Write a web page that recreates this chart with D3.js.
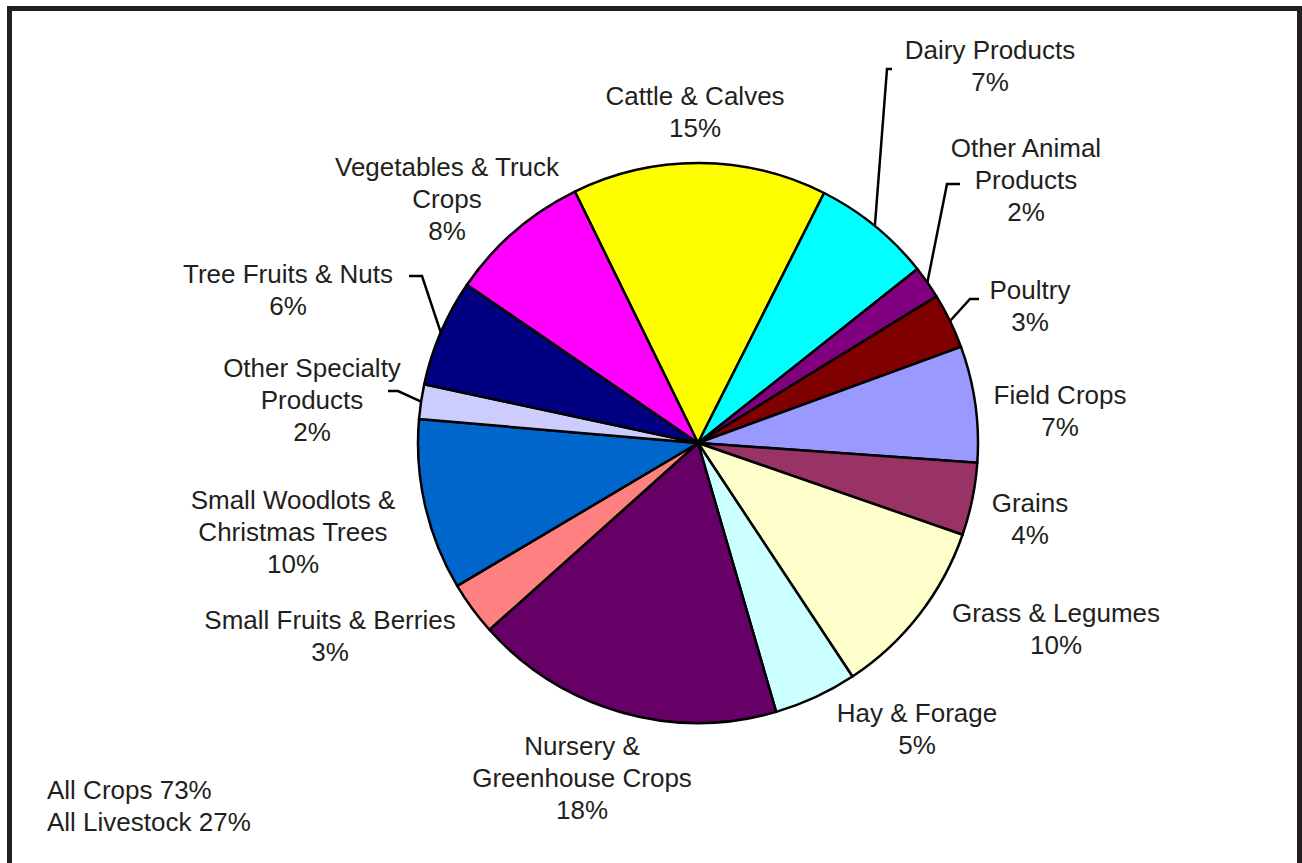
<!DOCTYPE html>
<html>
<head>
  <meta charset="utf-8">
  <script src="https://d3js.org/d3.v7.min.js"></script>
  <style>
    body { margin: 0; background: #fff; }
    text { font-family: "Liberation Sans", Arial, sans-serif; fill: #231f20; }
  </style>
</head>
<body>
<script>
  // slice names (each label line separated by |), values in percent, fill colours
  var categories = [
    "Cattle & Calves", "Dairy Products", "Other Animal|Products", "Poultry",
    "Field Crops", "Grains", "Grass & Legumes", "Hay & Forage",
    "Nursery &|Greenhouse Crops", "Small Fruits & Berries",
    "Small Woodlots &|Christmas Trees", "Other Specialty|Products",
    "Tree Fruits & Nuts", "Vegetables & Truck|Crops"
  ];
  var values = [14.7, 6.9, 1.9, 3.2, 6.7, 4.2, 10.4, 4.8, 17.9, 3.1, 9.9, 2.0, 6.2, 8.2];
  var colors = [
    "#ffff00", "#00ffff", "#800080", "#800000", "#9999ff", "#993366", "#ffffcc",
    "#ccffff", "#660066", "#ff8080", "#0066cc", "#ccccff", "#000080", "#ff00ff"
  ];
  var summary = ["All Crops 73%", "All Livestock 27%"];

  var width = 1302, height = 863;
  var cx = 698, cy = 443, radius = 280;
  var lineH = 32;

  // label block centres (x, y of the first line) -- layout only
  var labelAt = [
    [695, 96], [990, 50], [1026, 148], [1030, 290], [1060, 395], [1030, 503],
    [1056, 613], [917, 713], [582, 746], [330, 620], [293, 500], [312, 368],
    [288, 274], [447, 167]
  ];
  // leader elbows: [elbow point, end of short horizontal tick]
  var leaders = {
    1: [[887, 69], [892, 69]],
    2: [[947, 184], [960, 184]],
    3: [[970, 299], [979, 299]],
    11: [[398, 391], [388, 391]],
    12: [[422, 276], [409, 276]]
  };

  var svg = d3.select("body").append("svg")
      .attr("width", width)
      .attr("height", height);

  // outer frame
  svg.append("rect")
      .attr("x", 9.5).attr("y", 8.5)
      .attr("width", 1290).attr("height", 900)
      .attr("fill", "none")
      .attr("stroke", "#231f20")
      .attr("stroke-width", 5);

  var total = d3.sum(values);
  var start = -26.1 * Math.PI / 180;
  var pie = d3.pie().sort(null).value(function(d) { return d; })
      .startAngle(start).endAngle(start + 2 * Math.PI);
  var arcs = pie(values);
  var arc = d3.arc().innerRadius(0).outerRadius(radius);

  var g = svg.append("g").attr("transform", "translate(" + cx + "," + cy + ")");
  g.selectAll("path.slice")
    .data(arcs)
    .enter().append("path")
      .attr("class", "slice")
      .attr("d", arc)
      .attr("fill", function(d, i) { return colors[i]; })
      .attr("stroke", "#000")
      .attr("stroke-width", 2.5)
      .attr("stroke-linejoin", "round");

  // leader lines from the slice's outer edge
  Object.keys(leaders).forEach(function(k) {
    var d = arcs[+k];
    var mid = (d.startAngle + d.endAngle) / 2;
    var p0 = [cx + radius * Math.sin(mid), cy - radius * Math.cos(mid)];
    var pts = [p0].concat(leaders[k]);
    svg.append("path")
        .attr("d", d3.line()(pts))
        .attr("fill", "none")
        .attr("stroke", "#000")
        .attr("stroke-width", 2.5);
  });

  // slice labels
  categories.forEach(function(name, i) {
    var lines = name.split("|");
    lines.push(Math.round(values[i] / total * 100) + "%");
    var t = svg.append("text")
        .attr("text-anchor", "middle")
        .attr("font-size", 26);
    lines.forEach(function(s, j) {
      t.append("tspan")
          .attr("x", labelAt[i][0])
          .attr("y", labelAt[i][1] + 9 + j * lineH)
          .text(s);
    });
  });

  // totals in the corner
  summary.forEach(function(s, j) {
    svg.append("text")
        .attr("x", 47)
        .attr("y", 799 + j * lineH)
        .attr("font-size", 26)
        .text(s);
  });
</script>
</body>
</html>
